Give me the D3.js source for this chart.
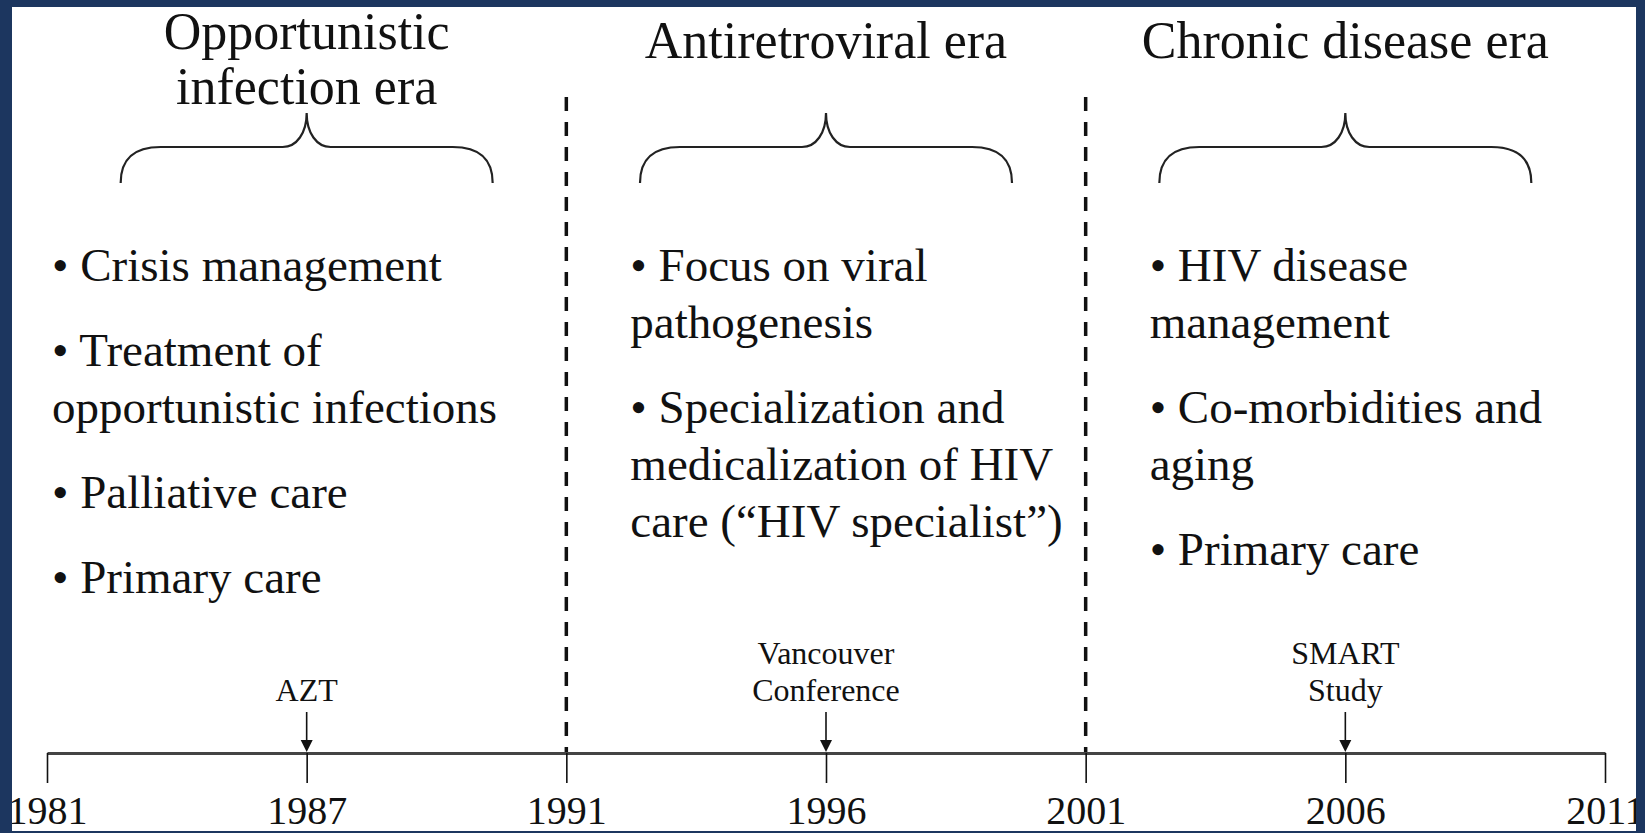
<!DOCTYPE html>
<html lang="en">
<head>
<meta charset="UTF-8">
<title>HIV care eras timeline</title>
<script src="https://d3js.org/d3.v7.min.js"></script>
<style>
    body { margin: 0; background: #1c365f; overflow: hidden; }
    text { font-family: "Liberation Serif", "Times New Roman", serif; fill: #111; }
</style>
</head>
<body>
<svg id="chart" width="1645" height="833"></svg>
<script>
    // tick labels of the timeline
    const tickYears = ["1981", "1987", "1991", "1996", "2001", "2006", "2011"];

    // eras: boundaries, titles and bullet points (each bullet = list of lines)
    const eraBounds = [["1981", "1991"], ["1991", "2001"], ["2001", "2011"]];
    const eraTitles = [
        ["Opportunistic", "infection era"],
        ["Antiretroviral era"],
        ["Chronic disease era"]
    ];
    const eraItems = [
        [["Crisis management"], ["Treatment of", "opportunistic infections"], ["Palliative care"], ["Primary care"]],
        [["Focus on viral", "pathogenesis"], ["Specialization and", "medicalization of HIV", "care (\u201cHIV specialist\u201d)"]],
        [["HIV disease", "management"], ["Co-morbidities and", "aging"], ["Primary care"]]
    ];

    // dashed era dividers
    const dividerYears = ["1991", "2001"];

    // milestones marked with arrows
    const eventYears = ["1987", "1996", "2006"];
    const eventLabels = [["AZT"], ["Vancouver", "Conference"], ["SMART", "Study"]];

    const svg = d3.select("#chart"),
        width = +svg.attr("width"),
        height = +svg.attr("height");

    const frame = {left: 12, top: 7, right: 9, bottom: 2};
    const navy = "#1c365f";
    const axisY = 753;

    // white panel
    svg.append("rect")
        .attr("x", frame.left).attr("y", frame.top)
        .attr("width", width - frame.left - frame.right)
        .attr("height", height - frame.top - frame.bottom)
        .attr("fill", "#fff");

    const x = d3.scalePoint()
        .domain(tickYears)
        .range([47, 1605]);

    // dashed dividers between eras
    svg.selectAll(".divider")
        .data(dividerYears)
        .join("line")
        .attr("class", "divider")
        .attr("x1", d => x(d)).attr("x2", d => x(d))
        .attr("y1", 97).attr("y2", axisY)
        .attr("stroke", "#111")
        .attr("stroke-width", 3.5)
        .attr("stroke-dasharray", "14 11");

    // timeline axis
    const axis = svg.append("g")
        .attr("transform", `translate(0,${axisY})`)
        .call(d3.axisBottom(x).tickSize(30).tickSizeOuter(0).tickPadding(13));
    axis.select(".domain").attr("stroke", "#444").attr("stroke-width", 3);
    axis.selectAll(".tick line").attr("stroke", "#111").attr("stroke-width", 1.6);
    axis.selectAll(".tick text").attr("font-size", 40);

    // curly brace under each era title
    function bracePath(cx, h, yTip, yMid, yEnd) {
        const l = cx - h, r = cx + h;
        return `M${l},${yEnd} C${l},${yMid + 12} ${l + 14},${yMid} ${l + 40},${yMid}` +
            ` L${cx - 24},${yMid} C${cx - 10},${yMid} ${cx},${yMid - 14} ${cx},${yTip}` +
            ` C${cx},${yMid - 14} ${cx + 10},${yMid} ${cx + 24},${yMid}` +
            ` L${r - 40},${yMid} C${r - 14},${yMid} ${r},${yMid + 12} ${r},${yEnd}`;
    }

    eraBounds.forEach(([s, e], i) => {
        const x0 = x(s), x1 = x(e), cx = (x0 + x1) / 2;
        const g = svg.append("g");
        const title = eraTitles[i];

        g.selectAll(".title")
            .data(title)
            .join("text")
            .attr("class", "title")
            .attr("x", cx)
            .attr("y", (d, j) => 58 - (title.length - 1) * 9 + j * 55)
            .attr("text-anchor", "middle")
            .attr("font-size", 52)
            .text(d => d);

        g.append("path")
            .attr("d", bracePath(cx, 186, 113, 147, 183))
            .attr("fill", "none")
            .attr("stroke", "#222")
            .attr("stroke-width", 2.2);

        // bullet lists
        const tx = x0 + (i ? 64 : 5);
        let y = 281;
        eraItems[i].forEach(item => {
            item.forEach((line, j) => {
                g.append("text")
                    .attr("x", tx)
                    .attr("y", y)
                    .attr("font-size", 47)
                    .text(j ? line : "\u2022 " + line);
                y += 57;
            });
            y += 28;
        });
    });

    // milestone arrows + labels
    const ev = svg.selectAll(".event")
        .data(eventYears)
        .join("g")
        .attr("class", "event")
        .attr("transform", d => `translate(${x(d)},0)`);

    ev.append("line")
        .attr("y1", 712).attr("y2", axisY - 8)
        .attr("stroke", "#111")
        .attr("stroke-width", 1.6);

    ev.append("path")
        .attr("d", `M-6,${axisY - 13}L6,${axisY - 13}L0,${axisY - 1}Z`)
        .attr("fill", "#111");

    ev.selectAll("text")
        .data((d, i) => eventLabels[i].map((t, j, a) => ({t, j, n: a.length})))
        .join("text")
        .attr("text-anchor", "middle")
        .attr("font-size", 32)
        .attr("y", d => 701 - (d.n - 1 - d.j) * 37)
        .text(d => d.t);

    // navy frame drawn on top
    const borders = [
        [0, 0, frame.left, height],
        [0, 0, width, frame.top],
        [width - frame.right, 0, frame.right, height],
        [0, height - frame.bottom, width, frame.bottom]
    ];
    svg.selectAll(".border")
        .data(borders)
        .join("rect")
        .attr("class", "border")
        .attr("x", d => d[0]).attr("y", d => d[1])
        .attr("width", d => d[2]).attr("height", d => d[3])
        .attr("fill", navy);
</script>
</body>
</html>
